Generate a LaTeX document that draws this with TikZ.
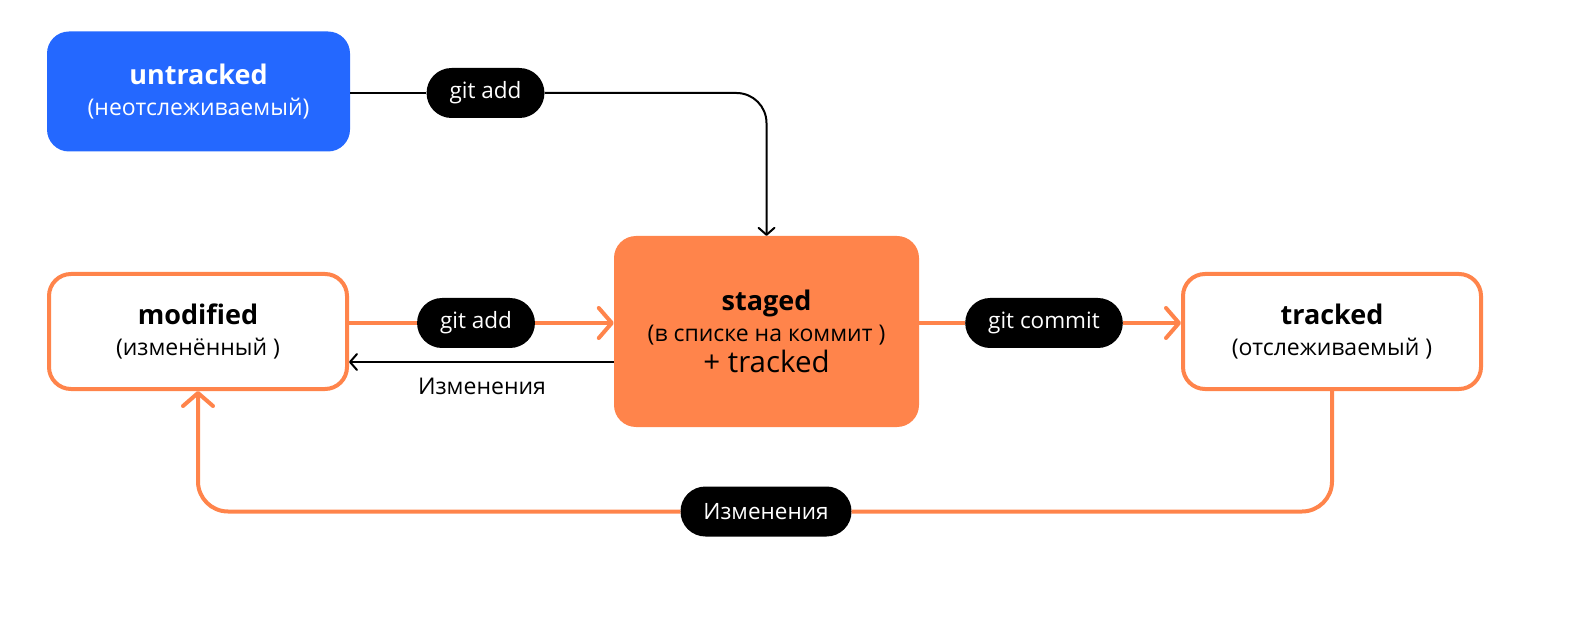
\documentclass[tikz,border=0pt]{standalone}
\usepackage{fontspec}
\setmainfont{Open Sans}
\usetikzlibrary{arrows.meta,positioning}
\definecolor{gitblue}{HTML}{2468FF}
\definecolor{gitorange}{HTML}{FF844B}

\begin{document}
\begin{tikzpicture}[x=1pt, y=-1pt,
    box/.style={rectangle, rounded corners=22pt, minimum width=303pt, minimum height=120pt, inner sep=0pt, align=center, font=\fontsize{23}{31}\selectfont},
    pill/.style={rectangle, rounded corners=25pt, fill=black, text=white, minimum height=50pt, inner xsep=23pt, font=\fontsize{22.5}{24}\selectfont},
    flow/.style={draw=gitorange, line width=4pt, rounded corners=30pt},
    back/.style={draw=black, line width=2pt, rounded corners=30pt}]
    \useasboundingbox (0,0) rectangle (1579,617);

    % states
    \node [box, fill=gitblue, text=white] (untracked) at (198.5,91.5)
      {{\bfseries\fontsize{27}{31}\selectfont untracked}\\(неотслеживаемый)};
    \node [box, draw=gitorange, line width=4pt, minimum width=298pt, minimum height=115pt] (modified) at (198,331.5)
      {{\bfseries\fontsize{27}{31}\selectfont modified}\\(изменённый )};
    \node [box, fill=gitorange, minimum width=305pt, minimum height=191pt] (staged) at (766.5,331.5)
      {{\bfseries\fontsize{27}{31}\selectfont staged}\\(в списке на коммит )\\{\fontsize{29.5}{31}\selectfont + tracked}};
    \node [box, draw=gitorange, line width=4pt, minimum width=298pt, minimum height=115pt] (tracked) at (1332,331.5)
      {{\bfseries\fontsize{27}{31}\selectfont tracked}\\(отслеживаемый )};

    % commands
    \node [pill] (addA) at (485.5,93) {git add};
    \node [pill] (addB) at (476,323) {git add};
    \node [pill] (commit) at (1044,323) {git commit};
    \node [pill] (changes) at (766,511.5) {Изменения};
    \coordinate (chg) at (482,362);
    \node [font=\fontsize{23}{26}\selectfont] (chglabel) at (482,386) {Изменения};

    % transitions
    \draw [back] (untracked.east |- addA) -- (addA.west);
    \draw [back, -{Straight Barb[length=7pt, width=16pt, line width=2pt, round]}]
      (addA.east) -| (staged.north);
    \draw [flow] (modified.east |- addB) -- (addB.west);
    \draw [flow, -{Straight Barb[length=13pt, width=30pt, line width=4pt, round]}]
      (addB.east) -- (staged.west |- addB);
    \draw [back, -{Straight Barb[length=7pt, width=16pt, line width=2pt, round]}]
      (staged.west |- chg) -- (modified.east |- chg);
    \draw [flow] (staged.east |- commit) -- (commit.west);
    \draw [flow, -{Straight Barb[length=13pt, width=30pt, line width=4pt, round]}]
      (commit.east) -- (tracked.west |- commit);
    \draw [flow] (tracked.south) |- (changes.east);
    \draw [flow, -{Straight Barb[length=13pt, width=30pt, line width=4pt, round]}]
      (changes.west) -| (modified.south);
\end{tikzpicture}
\end{document}
